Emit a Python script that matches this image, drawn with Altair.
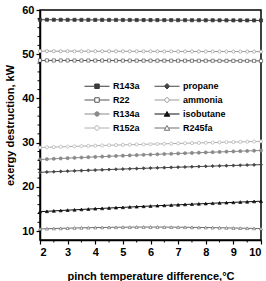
import altair as alt
import pandas as pd

# pinch temperature difference (°C)
pinch_diff = [2.0, 2.25, 2.5, 2.75, 3.0, 3.25, 3.5, 3.75, 4.0, 4.25, 4.5, 4.75,
              5.0, 5.25, 5.5, 5.75, 6.0, 6.25, 6.5, 6.75, 7.0, 7.25, 7.5, 7.75,
              8.0, 8.25, 8.5, 8.75, 9.0, 9.25, 9.5, 9.75, 10.0]

# exergy destruction (kW) for each working fluid
r143a = [57.80, 57.80, 57.79, 57.79, 57.78, 57.78, 57.77, 57.77, 57.76, 57.76, 57.75,
         57.75, 57.74, 57.74, 57.73, 57.73, 57.72, 57.72, 57.71, 57.71, 57.70, 57.70,
         57.69, 57.69, 57.68, 57.68, 57.67, 57.67, 57.66, 57.66, 57.65, 57.65, 57.64]
ammonia = [50.70, 50.70, 50.69, 50.69, 50.69, 50.68, 50.68, 50.68, 50.67, 50.67, 50.67,
           50.66, 50.66, 50.66, 50.65, 50.65, 50.65, 50.64, 50.64, 50.64, 50.63, 50.63,
           50.63, 50.62, 50.62, 50.62, 50.61, 50.61, 50.61, 50.60, 50.60, 50.60, 50.59]
r22 = [48.60, 48.60, 48.59, 48.59, 48.59, 48.58, 48.58, 48.58, 48.57, 48.57, 48.57,
       48.56, 48.56, 48.56, 48.55, 48.55, 48.55, 48.54, 48.54, 48.54, 48.53, 48.53,
       48.53, 48.52, 48.52, 48.52, 48.51, 48.51, 48.51, 48.50, 48.50, 48.50, 48.49]
r152a = [28.90, 28.96, 29.01, 29.07, 29.12, 29.17, 29.22, 29.27, 29.32, 29.37, 29.42,
         29.46, 29.51, 29.55, 29.59, 29.63, 29.67, 29.71, 29.75, 29.79, 29.83, 29.87,
         29.91, 29.95, 29.99, 30.03, 30.07, 30.11, 30.14, 30.18, 30.22, 30.26, 30.30]
r134a = [26.20, 26.28, 26.36, 26.44, 26.51, 26.58, 26.65, 26.72, 26.79, 26.86, 26.93,
         27.00, 27.06, 27.13, 27.19, 27.26, 27.32, 27.38, 27.44, 27.50, 27.56, 27.62,
         27.68, 27.74, 27.80, 27.85, 27.91, 27.97, 28.02, 28.08, 28.13, 28.19, 28.24]
propane = [23.30, 23.37, 23.44, 23.50, 23.57, 23.63, 23.69, 23.75, 23.81, 23.87, 23.93,
           23.99, 24.04, 24.10, 24.15, 24.21, 24.26, 24.31, 24.36, 24.41, 24.46, 24.51,
           24.56, 24.61, 24.66, 24.71, 24.76, 24.80, 24.85, 24.90, 24.95, 24.99, 25.04]
isobutane = [14.40, 14.49, 14.58, 14.67, 14.75, 14.83, 14.91, 14.99, 15.07, 15.15, 15.23,
             15.31, 15.38, 15.46, 15.53, 15.61, 15.68, 15.75, 15.82, 15.89, 15.96, 16.03,
             16.10, 16.17, 16.24, 16.31, 16.38, 16.44, 16.51, 16.58, 16.64, 16.71, 16.77]
r245fa = [10.50, 10.55, 10.60, 10.64, 10.68, 10.72, 10.75, 10.78, 10.81, 10.84, 10.86,
          10.88, 10.90, 10.91, 10.92, 10.93, 10.93, 10.93, 10.92, 10.91, 10.90, 10.88,
          10.86, 10.84, 10.82, 10.80, 10.77, 10.74, 10.71, 10.68, 10.65, 10.62, 10.58]

# legend order (legend columns are filled top to bottom)
fluids = ["R143a", "R22", "R134a", "R152a", "propane", "ammonia", "isobutane", "R245fa"]
fluid_values = [r143a, r22, r134a, r152a, propane, ammonia, isobutane, r245fa]

x_major = [2, 3, 4, 5, 6, 7, 8, 9, 10]
x_minor = [2.5, 3.5, 4.5, 5.5, 6.5, 7.5, 8.5, 9.5]
y_major = [10, 20, 30, 40, 50, 60]
y_minor = [12, 14, 16, 18, 22, 24, 26, 28, 32, 34, 36, 38, 42, 44, 46, 48, 52, 54, 56, 58]

# styling per fluid
stroke_colors = ["#3a3a3a", "#555555", "#8a8a8a", "#b0b0b0",
                 "#454545", "#9a9a9a", "#111111", "#6e6e6e"]
fill_colors = ["#3a3a3a", "#ffffff", "#8a8a8a", "#ffffff",
               "#454545", "#ffffff", "#111111", "#ffffff"]
marker_shapes = ["square", "square", "circle", "circle",
                 "diamond", "circle", "triangle-up", "triangle-up"]

# legend glyphs: a short line segment with the marker in the middle
sq = "M-2.5,0H-0.45M0.45,0H2.5M-0.45,-0.45H0.45V0.45H-0.45Z"
di = "M-2.5,0H-0.55M0.55,0H2.5M0,-0.55L0.55,0L0,0.55L-0.55,0Z"
ci = "M-2.5,0H-0.45M0.45,0H2.5M0.45,0A0.45,0.45,0,1,1,-0.45,0A0.45,0.45,0,1,1,0.45,0Z"
tr = "M-2.5,0H-0.3M0.3,0H2.5M0,-0.5L0.55,0.45L-0.55,0.45Z"
legend_paths = [sq, sq, ci, ci, di, ci, tr, tr]

rows = []
for name, vals in zip(fluids, fluid_values):
    for xv, yv in zip(pinch_diff, vals):
        rows.append({"fluid": name, "pinch": xv, "exd": yv})
df = pd.DataFrame(rows)

FONT = "Liberation Sans"

x_scale = alt.Scale(domain=[2, 10], nice=False, zero=False)
y_scale = alt.Scale(domain=[8, 60], nice=False, zero=False)
x_axis = alt.Axis(values=x_major, title="pinch temperature difference,°C",
                  format="d", grid=False, tickSize=4, labelPadding=2,
                  titlePadding=13)
y_axis = alt.Axis(values=y_major, title="exergy destruction, kW",
                  grid=False, tickSize=4, labelPadding=2, titlePadding=6)

x_enc = alt.X("pinch:Q", scale=x_scale, axis=x_axis)
y_enc = alt.Y("exd:Q", scale=y_scale, axis=y_axis)

stroke_scale = alt.Scale(domain=fluids, range=stroke_colors)
fill_scale = alt.Scale(domain=fluids, range=fill_colors)

lines = alt.Chart(df).mark_line(strokeWidth=1).encode(
    x=x_enc,
    y=y_enc,
    stroke=alt.Stroke("fluid:N", scale=stroke_scale, legend=None),
    detail="fluid:N",
)

points = alt.Chart(df).mark_point(size=10, strokeWidth=0.7, opacity=1).encode(
    x=x_enc,
    y=y_enc,
    stroke=alt.Stroke("fluid:N", scale=stroke_scale, legend=None),
    fill=alt.Fill("fluid:N", scale=fill_scale, legend=None),
    shape=alt.Shape("fluid:N", scale=alt.Scale(domain=fluids, range=marker_shapes),
                    legend=None),
)

legend_layer = alt.Chart(df).transform_filter("false").mark_point(
    size=100, strokeWidth=1, opacity=1
).encode(
    x=x_enc,
    y=y_enc,
    stroke=alt.Stroke("fluid:N", scale=stroke_scale, title=None),
    fill=alt.Fill("fluid:N", scale=fill_scale, title=None),
    shape=alt.Shape("fluid:N", scale=alt.Scale(domain=fluids, range=legend_paths),
                    title=None),
)

# minor ticks along both axes
minor_x = alt.Chart(pd.DataFrame({"pinch": x_minor})).mark_rule(
    color="black", strokeWidth=1
).encode(
    x=alt.X("pinch:Q", scale=x_scale, axis=x_axis),
    y=alt.value(230),
    y2=alt.value(232.5),
)

minor_y = alt.Chart(pd.DataFrame({"exd": y_minor})).mark_rule(
    color="black", strokeWidth=1
).encode(
    y=alt.Y("exd:Q", scale=y_scale, axis=y_axis),
    x=alt.value(-2.5),
    x2=alt.value(0),
)

chart = alt.layer(lines, points, legend_layer, minor_x, minor_y).resolve_scale(
    stroke="independent", fill="independent", shape="independent"
).properties(
    width=221,
    height=230,
    autosize=alt.AutoSizeParams(type="none"),
    padding={"left": 40, "top": 10, "right": 5, "bottom": 41},
).configure_view(
    stroke="black", strokeWidth=1.5
).configure_axis(
    domainColor="black", domainWidth=1.5, tickColor="black", tickWidth=1.2,
    labelFont=FONT, labelFontSize=11, labelFontWeight="bold", labelColor="black",
    titleFont=FONT, titleFontSize=11, titleFontWeight="bold", titleColor="black",
).configure_legend(
    orient="none", legendX=51.5, legendY=70.5, columns=2, columnPadding=12,
    rowPadding=3, padding=0, labelOffset=10.5, symbolStrokeWidth=1,
    labelFont=FONT, labelFontSize=9, labelFontWeight="bold", labelColor="black",
)

chart.save("out.html", embed_options={"renderer": "svg", "actions": False})
